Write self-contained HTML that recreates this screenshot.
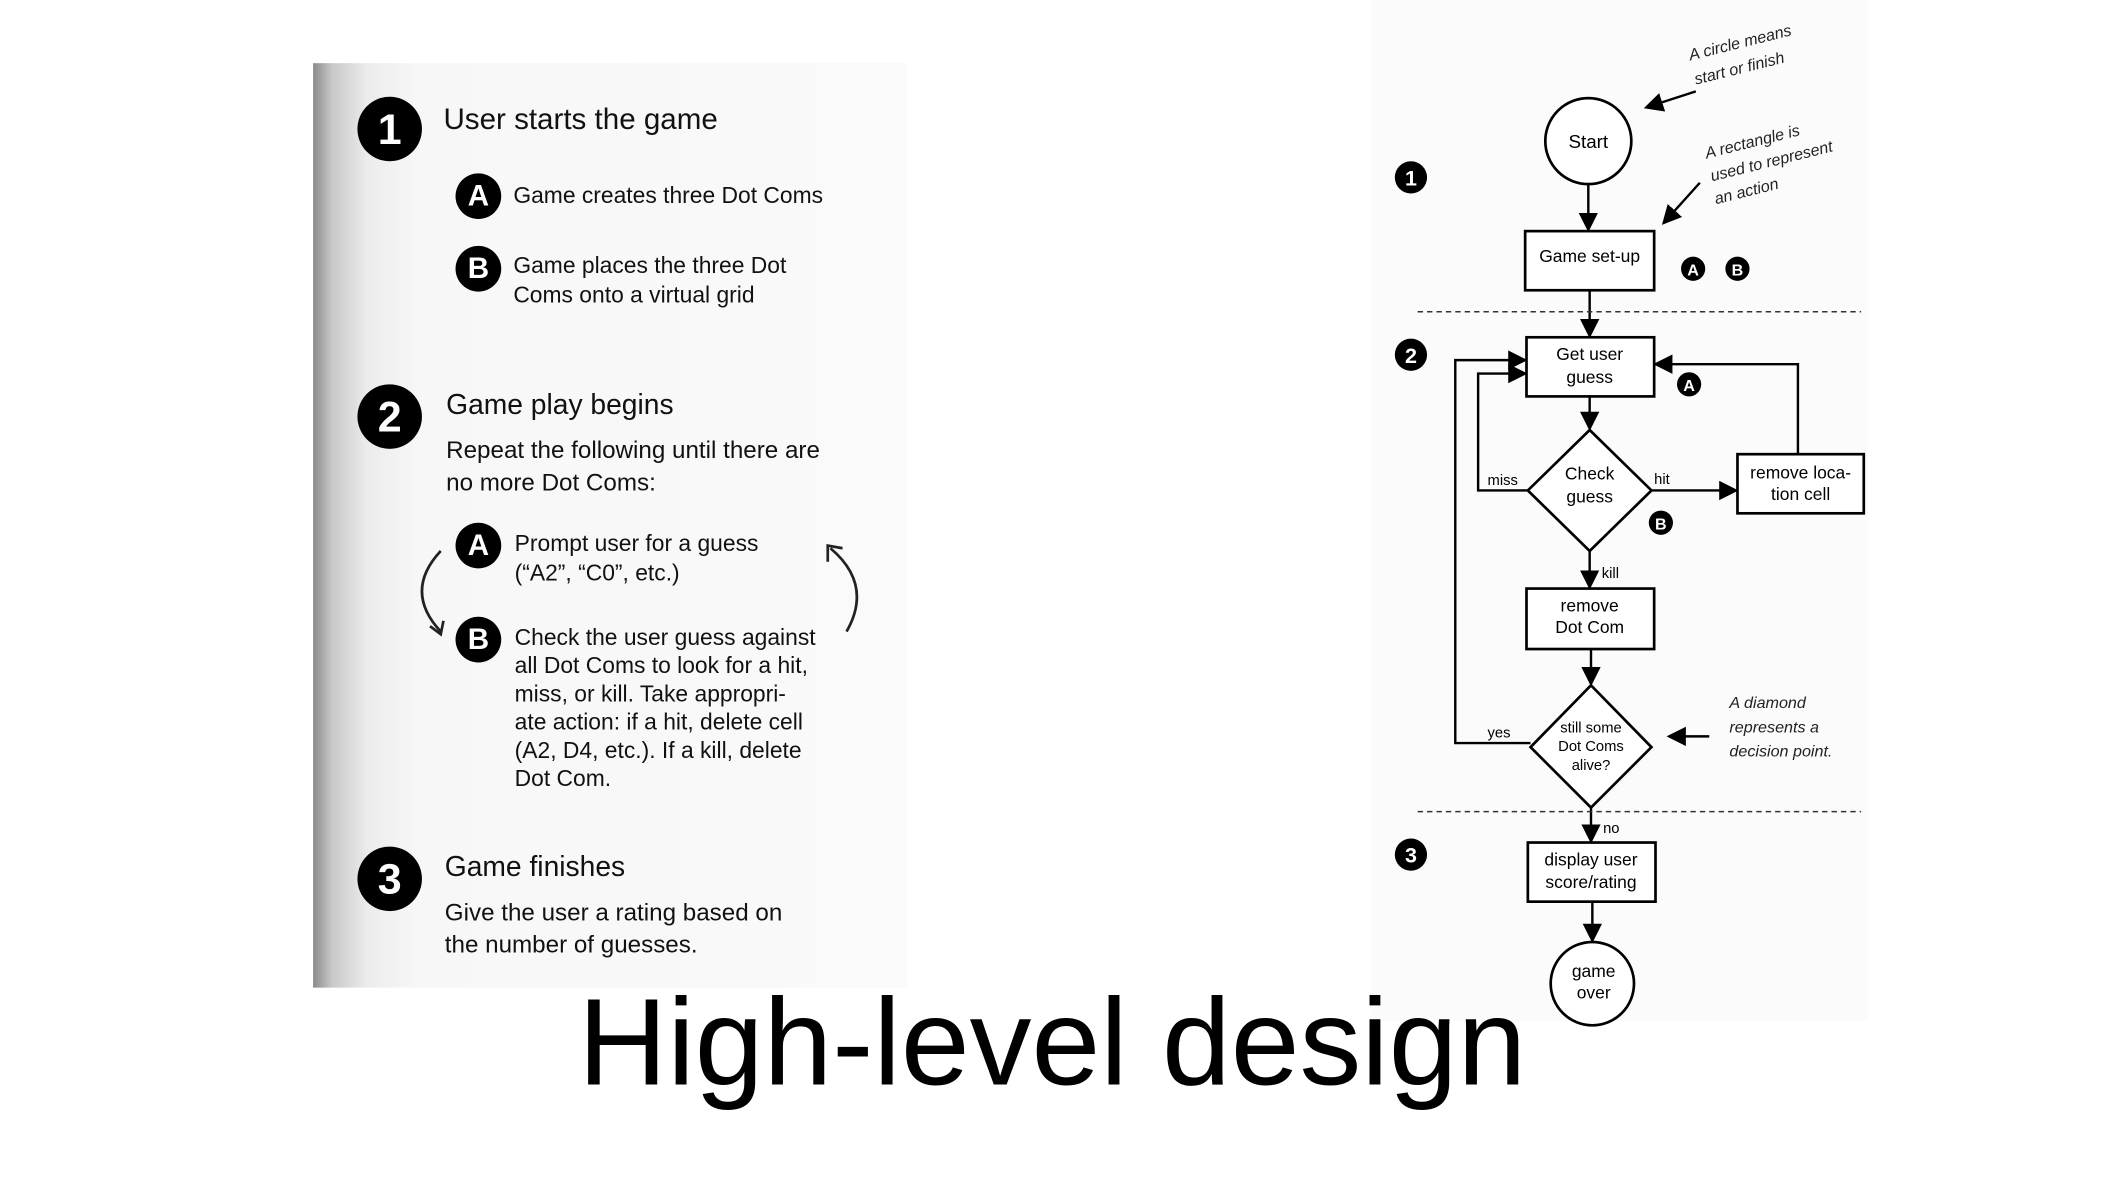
<!DOCTYPE html>
<html><head><meta charset="utf-8"><style>
html,body{margin:0;padding:0;background:#fff;overflow:hidden}
#w{width:2107px;height:1185px;position:relative}
#s{position:absolute;left:0;top:0;width:1568px;height:882px;transform:scale(1.34375);transform-origin:0 0;font-family:"Liberation Sans",sans-serif}
.lp{position:absolute;left:233px;top:47px;width:442px;height:688px;background:linear-gradient(90deg,#8a8a8a 0px,#c8c8c8 14px,#ececec 40px,#f7f7f7 80px,#fafafa 100%)}
.t{position:absolute;color:#111;white-space:nowrap}
.n{position:absolute;border-radius:50%;background:#000;color:#fff;font-weight:bold;text-align:center}
</style></head><body><div id="w"><div id="s">
<div class="lp"></div>
<div style="position:absolute;left:1020px;top:0;width:370px;height:760px;background:#fbfbfb"></div>

<div class="n" style="left:266px;top:72px;width:48px;height:48px;font-size:32px;line-height:48px">1</div>
<div class="t" style="left:330px;top:76px;font-size:22px">User starts the game</div>
<div class="n" style="left:339px;top:129px;width:34px;height:34px;font-size:22px;line-height:34px">A</div>
<div class="t" style="left:382px;top:136px;font-size:17px">Game creates three Dot Coms</div>
<div class="n" style="left:339px;top:183px;width:34px;height:34px;font-size:22px;line-height:34px">B</div>
<div class="t" style="left:382px;top:187px;font-size:17px;line-height:22px">Game places the three Dot<br>Coms onto a virtual grid</div>

<div class="n" style="left:266px;top:286px;width:48px;height:48px;font-size:32px;line-height:48px">2</div>
<div class="t" style="left:332px;top:290px;font-size:21px">Game play begins</div>
<div class="t" style="left:332px;top:323px;font-size:18px;line-height:24px">Repeat the following until there are<br>no more Dot Coms:</div>
<div class="n" style="left:339px;top:389px;width:34px;height:34px;font-size:22px;line-height:34px">A</div>
<div class="t" style="left:383px;top:394px;font-size:17px;line-height:22px">Prompt user for a guess<br>(“A2”, “C0”, etc.)</div>
<div class="n" style="left:339px;top:459px;width:34px;height:34px;font-size:22px;line-height:34px">B</div>
<div class="t" style="left:383px;top:464px;font-size:17px;line-height:21px">Check the user guess against<br>all Dot Coms to look for a hit,<br>miss, or kill. Take appropri-<br>ate action: if a hit, delete cell<br>(A2, D4, etc.). If a kill, delete<br>Dot Com.</div>
<svg style="position:absolute;left:300px;top:400px" width="350" height="80">
<path d="M28 10 Q0 40 28 70" fill="none" stroke="#222" stroke-width="2"/><path d="M20 66 L28 72 L30 62" fill="none" stroke="#222" stroke-width="2"/>
<path d="M330 70 Q350 35 318 8" fill="none" stroke="#222" stroke-width="2"/><path d="M316 18 L316 6 L327 8" fill="none" stroke="#222" stroke-width="2"/>
</svg>

<div class="n" style="left:266px;top:630px;width:48px;height:48px;font-size:32px;line-height:48px">3</div>
<div class="t" style="left:331px;top:634px;font-size:21px">Game finishes</div>
<div class="t" style="left:331px;top:667px;font-size:18px;line-height:24px">Give the user a rating based on<br>the number of guesses.</div>

<svg style="position:absolute;left:0;top:0" width="1568" height="882" font-family="Liberation Sans, sans-serif" font-size="13">
<defs><marker id="a" markerWidth="8" markerHeight="8" refX="7" refY="4" orient="auto"><path d="M0 0 L8 4 L0 8z" fill="#000"/></marker></defs>
<g stroke="#000" stroke-width="2" fill="#fff">
<circle cx="1182" cy="105" r="32"/>
<rect x="1135" y="172" width="96" height="44"/>
<rect x="1136" y="251" width="95" height="44"/>
<path d="M1183 320 L1229 365 L1183 410 L1137 365Z"/>
<rect x="1293" y="338" width="94" height="44"/>
<rect x="1136" y="438" width="95" height="45"/>
<path d="M1184 510 L1229 556 L1184 601 L1139 556Z"/>
<rect x="1137" y="627" width="95" height="44"/>
<circle cx="1185" cy="732" r="31"/>
</g>
<g stroke="#000" stroke-width="1.8" fill="none" marker-end="url(#a)">
<path d="M1182 137 L1182 171"/><path d="M1183 216 L1183 250"/><path d="M1183 295 L1183 319"/>
<path d="M1183 410 L1183 437"/><path d="M1184 483 L1184 509"/><path d="M1184 601 L1184 626"/><path d="M1185 671 L1185 700"/>
<path d="M1137 365 L1100 365 L1100 278 L1135 278"/>
<path d="M1139 553 L1083 553 L1083 268 L1135 268"/>
<path d="M1229 365 L1292 365"/>
<path d="M1338 338 L1338 271 L1232 271"/>
<path d="M1262 68 L1225 80"/><path d="M1265 136 L1238 166"/><path d="M1272 548 L1242 548"/>
</g>
<g stroke="#333" stroke-width="1.2" stroke-dasharray="4 3"><line x1="1055" y1="232" x2="1385" y2="232"/><line x1="1055" y1="604" x2="1385" y2="604"/></g>
<g fill="#000">
<circle cx="1050" cy="132" r="12"/><circle cx="1050" cy="264" r="12"/><circle cx="1050" cy="636" r="12"/>
<circle cx="1260" cy="200" r="9"/><circle cx="1293" cy="200" r="9"/><circle cx="1257" cy="286" r="9"/><circle cx="1236" cy="389" r="9"/>
</g>
<g fill="#fff" font-weight="bold" text-anchor="middle">
<text x="1050" y="138" font-size="16">1</text><text x="1050" y="270" font-size="16">2</text><text x="1050" y="642" font-size="16">3</text>
<text x="1260" y="205" font-size="12">A</text><text x="1293" y="205" font-size="12">B</text><text x="1257" y="291" font-size="12">A</text><text x="1236" y="394" font-size="12">B</text>
</g>
<g fill="#000" text-anchor="middle">
<text x="1182" y="110" font-size="14">Start</text>
<text x="1183" y="195" font-size="13">Game set-up</text>
<text x="1183" y="268">Get user</text><text x="1183" y="285">guess</text>
<text x="1183" y="357">Check</text><text x="1183" y="374">guess</text>
<text x="1340" y="356">remove loca-</text><text x="1340" y="372">tion cell</text>
<text x="1183" y="455">remove</text><text x="1183" y="471">Dot Com</text>
<text x="1184" y="545" font-size="11">still some</text><text x="1184" y="559" font-size="11">Dot Coms</text><text x="1184" y="573" font-size="11">alive?</text>
<text x="1184" y="644">display user</text><text x="1184" y="661">score/rating</text>
<text x="1186" y="727">game</text><text x="1186" y="743">over</text>
</g>
<g fill="#000" font-size="11">
<text x="1107" y="361">miss</text><text x="1231" y="360">hit</text><text x="1192" y="430">kill</text><text x="1107" y="549">yes</text><text x="1193" y="620">no</text>
</g>
<g fill="#222" font-size="12" font-style="italic">
<text x="1258" y="45" transform="rotate(-14 1258 45)">A circle means</text><text x="1262" y="63" transform="rotate(-14 1262 63)">start or finish</text>
<text x="1270" y="118" transform="rotate(-14 1270 118)">A rectangle is</text><text x="1274" y="135" transform="rotate(-14 1274 135)">used to represent</text><text x="1277" y="152" transform="rotate(-14 1277 152)">an action</text>
<text x="1287" y="527">A diamond</text><text x="1287" y="545">represents a</text><text x="1287" y="563">decision point.</text>
</g>
<text x="783" y="807" text-anchor="middle" font-size="92" fill="#000">High-level design</text>
</svg>
</div></div></body></html>
